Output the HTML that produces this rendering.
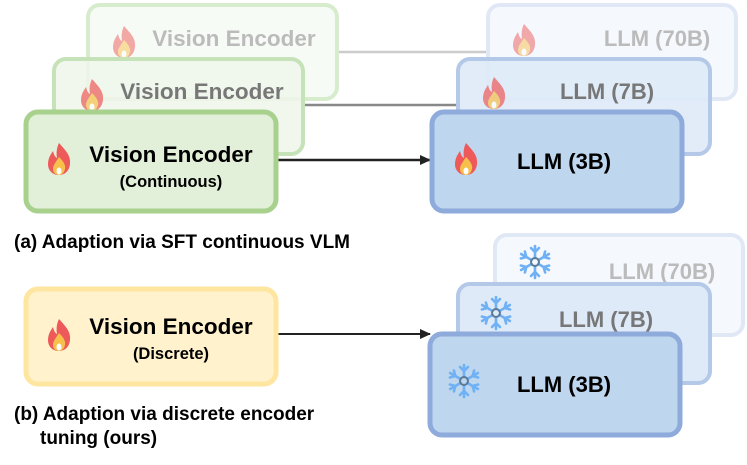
<html><body style="margin:0;background:#fff">
<svg width="747" height="465" viewBox="0 0 747 465" xmlns="http://www.w3.org/2000/svg" font-family="Liberation Sans, Arial, sans-serif" font-weight="bold">
<defs>
<g id="flame"><path d="M0,-17 C6,-10 12,-5 11,4 C10,12 5,15 0,15 C-6,15 -11,11 -11,4 C-11,-2 -8,-6 -6,-9 C-5,-5 -4,-3 -2,-2 C-3,-8 -2,-13 0,-17Z" fill="#ee5a5a"/><path d="M0,-3 C4,1 7,5 6,9 C5,13 3,15 0,15 C-4,15 -6,12 -6,9 C-6,5 -3,2 0,-3Z" fill="#f7c04a"/><ellipse cx="0" cy="11" rx="2.5" ry="3.5" fill="#fff"/></g>
<g id="snow" stroke="#6fb1f5" stroke-width="2.6" stroke-linecap="round" fill="none"><g id="arm"><line x1="0" y1="-4" x2="0" y2="-16"/><polyline points="-4,-14 0,-10 4,-14"/></g><use href="#arm" transform="rotate(60)"/><use href="#arm" transform="rotate(120)"/><use href="#arm" transform="rotate(180)"/><use href="#arm" transform="rotate(240)"/><use href="#arm" transform="rotate(300)"/><circle r="4" stroke="#5b7a99" stroke-width="2"/></g>
<marker id="ah" markerWidth="11" markerHeight="10" refX="10" refY="5" orient="auto" markerUnits="userSpaceOnUse"><path d="M0,0 L11,5 L0,10Z" fill="#222"/></marker>
</defs>
<line x1="338" y1="52" x2="486" y2="52" stroke="#ccc" stroke-width="2.5"/>
<line x1="305" y1="105" x2="456" y2="105" stroke="#888" stroke-width="2.5"/>
<line x1="278" y1="160" x2="430" y2="160" stroke="#222" stroke-width="2.5" marker-end="url(#ah)"/>
<line x1="278" y1="334" x2="430" y2="334" stroke="#222" stroke-width="2" marker-end="url(#ah)"/>
<rect x="88" y="5" width="249" height="94" rx="12" fill="#f7fbf5" stroke="#d7ebcd" stroke-width="4"/>
<use href="#flame" transform="translate(124,43)" opacity="0.5"/>
<text x="234" y="46" font-size="22.5" fill="#bbb" text-anchor="middle">Vision Encoder</text>
<rect x="54" y="59" width="249" height="95" rx="12" fill="#eef6ea" stroke="#c5e2b8" stroke-width="4" fill-opacity="0.85"/>
<use href="#flame" transform="translate(92,96)" opacity="0.7"/>
<text x="202" y="99" font-size="22.5" fill="#777" text-anchor="middle">Vision Encoder</text>
<rect x="26" y="112" width="250" height="99" rx="12" fill="#e2efd9" stroke="#a9d18e" stroke-width="5"/>
<use href="#flame" transform="translate(59,160)"/>
<text x="171" y="162" font-size="22.5" fill="#000" text-anchor="middle">Vision Encoder</text>
<text x="171" y="187" font-size="16.5" fill="#000" text-anchor="middle">(Continuous)</text>
<rect x="488" y="5" width="248" height="94" rx="12" fill="#f5f8fd" stroke="#e0e8f6" stroke-width="4"/>
<use href="#flame" transform="translate(524,41)" opacity="0.5"/>
<text x="657" y="46" font-size="22" fill="#bbb" text-anchor="middle">LLM (70B)</text>
<rect x="458" y="59" width="252" height="95" rx="12" fill="#deeaf7" stroke="#b4c8e8" stroke-width="4" fill-opacity="0.9"/>
<use href="#flame" transform="translate(494,94)" opacity="0.7"/>
<text x="607" y="99" font-size="22" fill="#777" text-anchor="middle">LLM (7B)</text>
<rect x="432" y="112" width="250" height="99" rx="12" fill="#bed6ee" stroke="#8eabdc" stroke-width="5"/>
<use href="#flame" transform="translate(466,160)"/>
<text x="564" y="169" font-size="22" fill="#000" text-anchor="middle">LLM (3B)</text>
<text x="14" y="248" font-size="19" fill="#000">(a) Adaption via SFT continuous VLM</text>
<rect x="26" y="289" width="250" height="95" rx="12" fill="#fff2cc" stroke="#ffe6a0" stroke-width="5"/>
<use href="#flame" transform="translate(59,336)"/>
<text x="171" y="334" font-size="22.5" fill="#000" text-anchor="middle">Vision Encoder</text>
<text x="171" y="359" font-size="16.5" fill="#000" text-anchor="middle">(Discrete)</text>
<rect x="495" y="235" width="248" height="100" rx="12" fill="#f5f8fd" stroke="#e0e8f6" stroke-width="4"/>
<use href="#snow" transform="translate(535,262)"/>
<text x="662" y="279" font-size="22" fill="#bbb" text-anchor="middle">LLM (70B)</text>
<rect x="458" y="284" width="252" height="99" rx="12" fill="#deeaf7" stroke="#b4c8e8" stroke-width="4"/>
<use href="#snow" transform="translate(496,313)"/>
<text x="606" y="327" font-size="22" fill="#777" text-anchor="middle">LLM (7B)</text>
<rect x="430" y="334" width="250" height="101" rx="12" fill="#bed6ee" stroke="#8eabdc" stroke-width="5"/>
<use href="#snow" transform="translate(464,381)"/>
<text x="564" y="392" font-size="22" fill="#000" text-anchor="middle">LLM (3B)</text>
<text x="14" y="420" font-size="19" fill="#000">(b) Adaption via discrete encoder</text>
<text x="40" y="444" font-size="19" fill="#000">tuning (ours)</text>
</svg>
</body></html>
